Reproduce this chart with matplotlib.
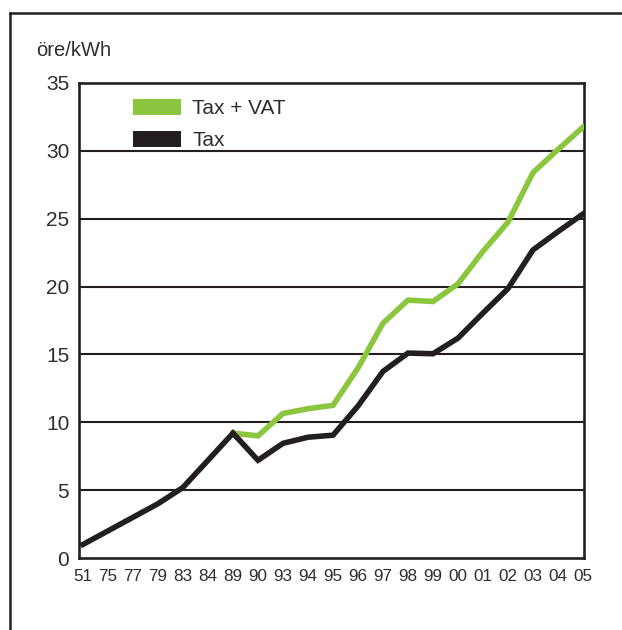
import numpy as np
import matplotlib
matplotlib.use("Agg")
import matplotlib.pyplot as plt
from matplotlib.lines import Line2D

plt.rcParams['font.family'] = ['Liberation Sans', 'DejaVu Sans']

years = ["51", "75", "77", "79", "83", "84", "89", "90", "93", "94", "95",
         "96", "97", "98", "99", "00", "01", "02", "03", "04", "05"]
tax = [1.0, 2.0, 3.0, 4.0, 5.2, 7.2, 9.2, 7.2, 8.45, 8.9, 9.05,
       11.2, 13.75, 15.1, 15.05, 16.2, 18.05, 19.85, 22.7, 24.05, 25.35]
tax_vat = [np.nan, np.nan, np.nan, np.nan, np.nan, np.nan, 9.2, 9.0, 10.65, 11.0, 11.25,
           14.0, 17.3, 19.0, 18.9, 20.2, 22.6, 24.75, 28.4, 30.1, 31.75]
yticks = [0, 5, 10, 15, 20, 25, 30, 35]

GREEN = "#8cc63f"
DARK = "#231f20"
TEXT = "#2e2e2e"

W, H = 622, 630
fig = plt.figure(figsize=(W / 100, H / 100), dpi=100)
ax = fig.add_axes([79 / W, 1 - 558 / H, (584 - 79) / W, (558 - 83) / H])

x = np.arange(len(years))
ax.plot(x, tax_vat, color=GREEN, lw=4.0, solid_joinstyle='miter', zorder=3)
ax.plot(x, tax, color=DARK, lw=4.0, solid_joinstyle='miter', zorder=4)

ax.set_xlim(-0.16, 20.04)
ax.set_ylim(0, 35)
ax.set_xticks(x)
ax.set_xticklabels(years)
ax.set_yticks(yticks)
ax.tick_params(axis='x', length=0, pad=8, labelsize=12.3, labelcolor=TEXT)
ax.tick_params(axis='y', length=0, pad=7, labelsize=15, labelcolor=TEXT)

for v in yticks[1:-1]:
    ax.axhline(v, color=DARK, lw=1.5, zorder=1)
for s in ax.spines.values():
    s.set_color(DARK)
    s.set_linewidth(1.9)

fig.text(36 / W, 1 - 51 / H, "öre/kWh", fontsize=14.5, color=TEXT,
         va='center', ha='left')

handles = [Line2D([], [], color=GREEN, lw=11.5, solid_capstyle='butt'),
           Line2D([], [], color=DARK, lw=11.5, solid_capstyle='butt')]
ax.legend(handles, ["Tax + VAT", "Tax"], loc='upper left',
          bbox_to_anchor=((133 - 79) / 505, (558 - 99) / 475),
          frameon=False, fontsize=15, handlelength=2.3, handletextpad=0.55,
          labelspacing=0.62, borderpad=0, borderaxespad=0,
          labelcolor=TEXT)

# outer frame
fig.add_artist(Line2D([10 / W, 10 / W], [0, 1 - 13 / H], color=DARK, lw=1.8,
                      transform=fig.transFigure))
fig.add_artist(Line2D([10 / W, 1], [1 - 13 / H, 1 - 13 / H], color=DARK, lw=1.8,
                      transform=fig.transFigure))

fig.savefig("out.png", dpi=100)
